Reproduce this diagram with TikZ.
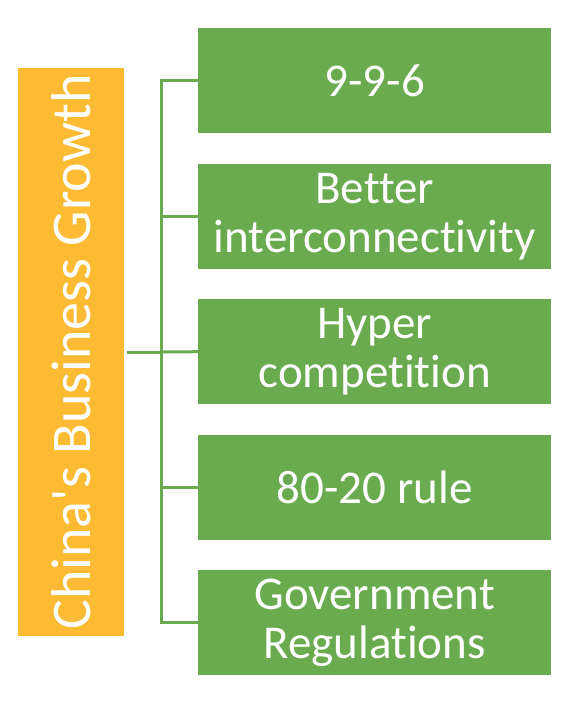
\documentclass[tikz,border=0pt]{standalone}
\usepackage{fontspec}
\setmainfont[Ligatures={NoCommon}]{Carlito}
\definecolor{leafgreen}{RGB}{106,171,80}
\definecolor{goldbar}{RGB}{253,186,51}
\begin{document}
\begin{tikzpicture}[x=1pt,y=-1pt,
  item/.style={fill=leafgreen, text=white, minimum width=353pt, minimum height=105pt,
    inner sep=0pt, align=center, font=\fontsize{47}{49}\selectfont, anchor=north west},
  title/.style={fill=goldbar, text=white, minimum width=568pt, minimum height=106pt,
    inner sep=0pt, font=\fontsize{56}{60}\selectfont, rotate=90},
  link/.style={draw=leafgreen, line width=3pt}]
\useasboundingbox (0,0) rectangle (569,705);
\node[title] (root) at (71,352) {China\textquotesingle s Business Growth};
\node[item] (b1) at (198,28)  {9-9-6};
\node[item] (b2) at (198,164) {Better\\interconnectivity};
\node[item] (b3) at (198,299) {Hyper\\competition};
\node[item] (b4) at (198,435) {80-20 rule};
\node[item] (b5) at (198,570) {Government\\Regulations};
\coordinate (trunk) at (161,352);
\draw[link] (root.south) ++(3pt,0) -- (trunk);
\draw[link] (b1.west) -| (trunk);
\draw[link] (b5.west) -| (trunk);
\draw[link] (b2.west) -- (b2.west -| trunk);
\draw[link] (b3.west) -- (trunk);
\draw[link] (b4.west) -- (b4.west -| trunk);
\end{tikzpicture}
\end{document}
